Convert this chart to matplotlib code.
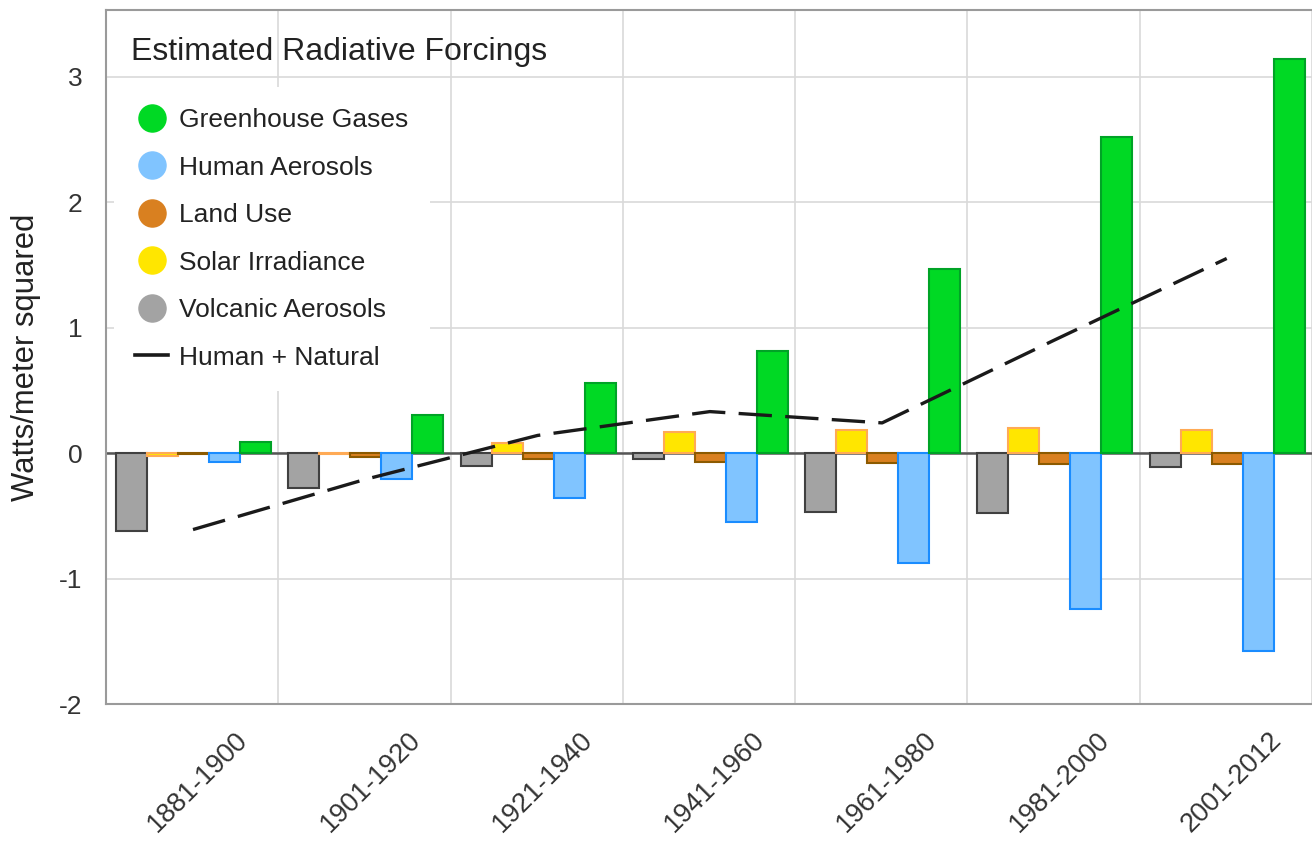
import matplotlib
matplotlib.use('Agg')
import matplotlib.pyplot as plt
from matplotlib.lines import Line2D
from matplotlib.transforms import ScaledTranslation
import numpy as np

plt.rcParams['font.family'] = ['Liberation Sans', 'DejaVu Sans']

# ---- data ----
periods = ['1881-1900', '1901-1920', '1921-1940', '1941-1960',
           '1961-1980', '1981-2000', '2001-2012']
volcanic = [-0.62, -0.28, -0.10, -0.05, -0.47, -0.48, -0.11]
solar = [-0.02, -0.01, 0.08, 0.17, 0.18, 0.20, 0.18]
land_use = [-0.01, -0.03, -0.05, -0.07, -0.08, -0.09, -0.09]
human_aerosols = [-0.07, -0.21, -0.36, -0.55, -0.88, -1.24, -1.58]
greenhouse = [0.09, 0.30, 0.56, 0.81, 1.47, 2.52, 3.14]
human_natural = [-0.61, -0.21, 0.14, 0.33, 0.24, 0.90, 1.55]
yticks = [-2, -1, 0, 1, 2, 3]

# ---- styles ----
series = [
    ('Volcanic Aerosols', volcanic, '#a3a3a3', '#404040'),
    ('Solar Irradiance', solar, '#ffe600', '#ffaa55'),
    ('Land Use', land_use, '#d98020', '#8c5a00'),
    ('Human Aerosols', human_aerosols, '#80c4ff', '#1a8cff'),
    ('Greenhouse Gases', greenhouse, '#00d924', '#00a326'),
]
offsets = [-0.352, -0.172, 0.008, 0.188, 0.368]
bar_w = 0.18

W, H = 1312, 842
fig = plt.figure(figsize=(W / 100, H / 100), dpi=100)
ax = fig.add_axes([106 / W, 1 - 704 / H, 1206 / W, 694 / H])

x = np.arange(len(periods))
for (name, vals, fc, ec), off in zip(series, offsets):
    ax.bar(x + off, vals, width=bar_w, color=fc, edgecolor=ec,
           linewidth=1.5, zorder=3)

ax.axhline(0, color='#555555', lw=1.8, zorder=2.5)

ax.plot(x + 0.005, human_natural, color='#1a1a1a', lw=2.4,
        linestyle=(0, (10, 4)), zorder=4)

ax.set_xlim(-0.5, len(periods) - 0.5)
ax.set_ylim(-2, 3.53)
ax.set_yticks(yticks)
ax.set_yticklabels([str(v) for v in yticks])
ax.set_xticks(x)
ax.set_xticklabels(periods)
ax.set_xticks(np.arange(len(periods) + 1) - 0.5, minor=True)

ax.grid(axis='y', which='major', color='#d9d9d9', lw=1.2, zorder=0)
ax.grid(axis='x', which='minor', color='#d9d9d9', lw=1.2, zorder=0)
ax.grid(axis='x', which='major', visible=False)
ax.set_axisbelow(True)

ax.tick_params(axis='both', which='both', length=0)
ax.tick_params(axis='y', labelsize=19, labelcolor='#333333', pad=17)
ax.tick_params(axis='x', labelsize=19.5, labelcolor='#333333', pad=23)
for lab in ax.get_xticklabels():
    lab.set_rotation(45)
    lab.set_ha('right')
    lab.set_va('center')
    lab.set_rotation_mode('anchor')
    lab.set_transform(lab.get_transform() +
                      ScaledTranslation(52 / 100, 0, fig.dpi_scale_trans))

for s in ['left', 'bottom', 'top']:
    ax.spines[s].set_color('#9a9a9a')
    ax.spines[s].set_linewidth(1.5)
ax.spines['right'].set_visible(False)

ax.set_ylabel('Watts/meter squared', fontsize=22.3, color='#222222',
              labelpad=13)

fig.text(131 / W, 1 - 60 / H, 'Estimated Radiative Forcings',
         fontsize=23, color='#222222', va='baseline', ha='left')

handles = []
for name, vals, fc, ec in series[::-1]:
    handles.append(Line2D([], [], marker='o', linestyle='none',
                          markersize=19.5, markerfacecolor=fc,
                          markeredgecolor=fc, label=name))
handles.append(Line2D([], [], color='#1a1a1a', lw=2.6,
                      label='Human + Natural'))
leg = ax.legend(handles=handles, loc='upper left',
                bbox_to_anchor=(114 / W, 1 - 87 / H),
                bbox_transform=fig.transFigure, borderaxespad=0,
                fontsize=19, frameon=True, fancybox=False,
                facecolor='white', edgecolor='none', framealpha=1,
                handlelength=1.25, handletextpad=0.42,
                labelspacing=0.89, borderpad=0.8)
for t in leg.get_texts():
    t.set_color('#222222')
leg.set_zorder(5)

fig.savefig('out.png', dpi=100)
